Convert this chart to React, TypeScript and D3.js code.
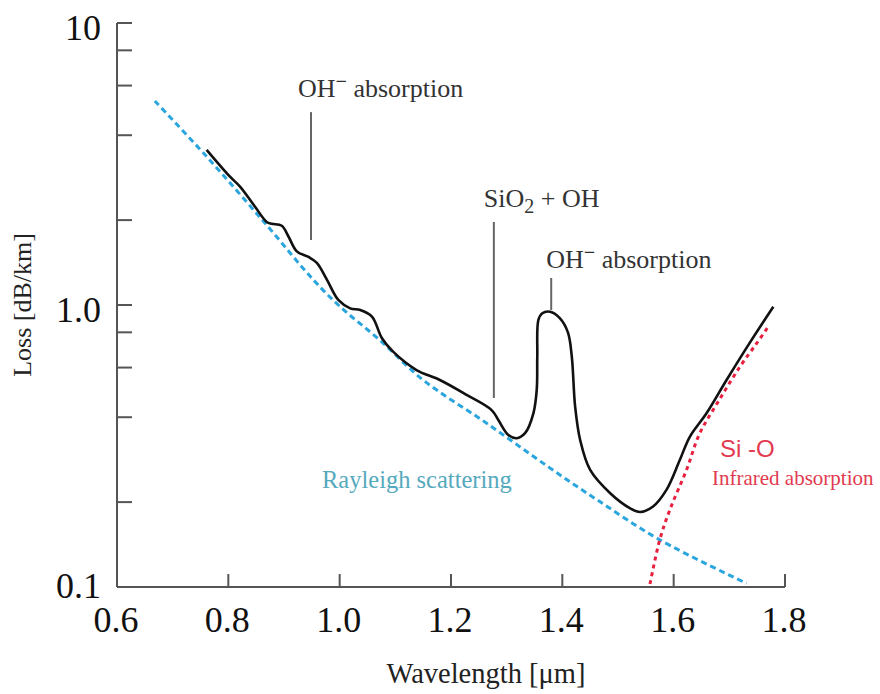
import React from "react";
import * as d3 from "d3";

// ---- data ----
const xTicks = [0.6, 0.8, 1.0, 1.2, 1.4, 1.6, 1.8];
const xTickLabels = ["0.6", "0.8", "1.0", "1.2", "1.4", "1.6", "1.8"];
const yMinorTicks = [10, 8, 6, 4, 2, 1, 0.8, 0.6, 0.4, 0.2];
const yLabelValues = [10, 1, 0.1];
const yLabelTexts = ["10", "1.0", "0.1"];

// total measured loss [wavelength µm, loss dB/km]
const lossWl = [0.761, 0.803, 0.821, 0.848, 0.869, 0.878, 0.896, 0.908, 0.923, 0.944, 0.959, 0.977, 0.998, 1.019, 1.037, 1.058, 1.076, 1.096, 1.138, 1.18, 1.228, 1.273, 1.285, 1.303, 1.318, 1.333, 1.348, 1.354, 1.355, 1.357, 1.364, 1.378, 1.395, 1.41, 1.417, 1.423, 1.432, 1.45, 1.486, 1.522, 1.54, 1.563, 1.587, 1.611, 1.629, 1.659, 1.695, 1.736, 1.779];
const lossVal = [3.55, 2.85, 2.63, 2.23, 1.97, 1.94, 1.91, 1.75, 1.55, 1.48, 1.41, 1.23, 1.04, 0.973, 0.96, 0.909, 0.762, 0.683, 0.588, 0.542, 0.48, 0.424, 0.391, 0.346, 0.337, 0.351, 0.413, 0.5, 0.656, 0.885, 0.935, 0.947, 0.9, 0.8, 0.656, 0.436, 0.332, 0.26, 0.215, 0.19, 0.1845, 0.193, 0.221, 0.282, 0.341, 0.413, 0.542, 0.731, 0.986];

// Rayleigh scattering
const rayWl = [0.668, 0.761, 0.866, 0.953, 1.001, 1.072, 1.15, 1.264, 1.378, 1.462, 1.575, 1.731];
const rayVal = [5.29, 3.36, 1.95, 1.226, 0.986, 0.751, 0.542, 0.381, 0.264, 0.204, 0.147, 0.103];

// Si-O infrared absorption
const irWl = [1.5575, 1.575, 1.593, 1.623, 1.647, 1.682, 1.719, 1.749, 1.77];
const irVal = [0.1025, 0.147, 0.1875, 0.26, 0.351, 0.461, 0.604, 0.731, 0.838];

// annotation leader lines [wavelength, top loss, bottom loss]
const annWl = [0.9485, 1.277, 1.38];
const annTop = [4.83, 1.97, 1.247];
const annBottom = [1.7, 0.468, 0.96];

export default function App() {
  const W = 880, H = 694;
  const x = d3.scaleLinear().domain([0.6, 1.8]).range([117, 785]);
  const y = d3.scaleLog().domain([0.1, 10]).range([587, 23]);

  const lossPts: [number, number][] = lossWl.map((w, i) => [w, lossVal[i]]);
  const rayPts: [number, number][] = rayWl.map((w, i) => [w, rayVal[i]]);
  const irPts: [number, number][] = irWl.map((w, i) => [w, irVal[i]]);

  const smooth = d3
    .line<[number, number]>()
    .x((d) => x(d[0]))
    .y((d) => y(d[1]))
    .curve(d3.curveCatmullRom.alpha(0.5));

  const serif = "'Liberation Serif', 'Times New Roman', serif";
  const sans = "'Liberation Sans', Arial, sans-serif";
  const axisColor = "#555";
  const annColor = "#333";

  const annX = annWl.map((w) => x(w));
  const annYTop = annTop.map((v) => y(v));

  return (
    <svg
      width={W}
      height={H}
      style={{ position: "absolute", left: 0, top: 0, background: "#fff" }}
    >
      {/* axes */}
      <line x1={x(0.6)} y1={y(10)} x2={x(0.6)} y2={y(0.1)} stroke={axisColor} strokeWidth={2} />
      <line x1={x(0.6)} y1={y(0.1)} x2={x(1.8)} y2={y(0.1)} stroke={axisColor} strokeWidth={2} />
      {yMinorTicks.map((t) => (
        <line key={"yt" + t} x1={x(0.6)} x2={x(0.6) + 15} y1={y(t)} y2={y(t)} stroke={axisColor} strokeWidth={2} />
      ))}
      {xTicks.slice(1).map((t) => (
        <line key={"xt" + t} x1={x(t)} x2={x(t)} y1={y(0.1)} y2={y(0.1) - 13} stroke={axisColor} strokeWidth={2} />
      ))}
      {yLabelValues.map((v, i) => (
        <text
          key={"yl" + i}
          x={101}
          y={Math.min(y(v) + 17, 598)}
          textAnchor="end"
          fontFamily={serif}
          fontSize={36}
          fill="#111"
        >
          {yLabelTexts[i]}
        </text>
      ))}
      {xTicks.map((t, i) => (
        <text key={"xl" + i} x={x(t) - 1} y={632} textAnchor="middle" fontFamily={serif} fontSize={36} fill="#111">
          {xTickLabels[i]}
        </text>
      ))}
      <text x={486} y={683} textAnchor="middle" fontFamily={serif} fontSize={28.5} fill="#222">
        Wavelength [μm]
      </text>
      <text
        transform={`translate(31,${y(1)}) rotate(-90)`}
        textAnchor="middle"
        fontFamily={serif}
        fontSize={26}
        fill="#222"
      >
        Loss [dB/km]
      </text>

      {/* curves */}
      <path d={smooth(rayPts) || ""} fill="none" stroke="#2aa5dd" strokeWidth={3} strokeDasharray="6 4" />
      <path d={smooth(irPts) || ""} fill="none" stroke="#e8203f" strokeWidth={3} strokeDasharray="4 4" />
      <path d={smooth(lossPts) || ""} fill="none" stroke="#111" strokeWidth={2.6} strokeLinejoin="round" />

      {/* annotations */}
      {annWl.map((w, i) => (
        <line key={"al" + i} x1={x(w)} x2={x(w)} y1={y(annTop[i])} y2={y(annBottom[i])} stroke="#666" strokeWidth={2} />
      ))}
      <text x={annX[0] - 13} y={annYTop[0] - 15} fontFamily={serif} fontSize={26} fill={annColor}>
        OH
        <tspan dy={-9} fontSize={20} fontWeight="bold">−</tspan>
        <tspan dy={9}> absorption</tspan>
      </text>
      <text x={annX[1] - 10} y={annYTop[1] - 15} fontFamily={serif} fontSize={26} fill={annColor}>
        SiO
        <tspan dy={6} fontSize={20}>2</tspan>
        <tspan dy={-6}> + OH</tspan>
      </text>
      <text x={annX[2] - 5} y={annYTop[2] - 10} fontFamily={serif} fontSize={26} fill={annColor}>
        OH
        <tspan dy={-9} fontSize={20} fontWeight="bold">−</tspan>
        <tspan dy={9}> absorption</tspan>
      </text>

      <text x={322} y={488} fontFamily={serif} fontSize={24.5} fill="#55a9bd">
        Rayleigh scattering
      </text>
      <text x={720} y={457} fontFamily={sans} fontSize={24} fill="#e23a50">
        Si -O
      </text>
      <text x={712} y={485} fontFamily={serif} fontSize={21} fill="#e23a50">
        Infrared absorption
      </text>
    </svg>
  );
}
